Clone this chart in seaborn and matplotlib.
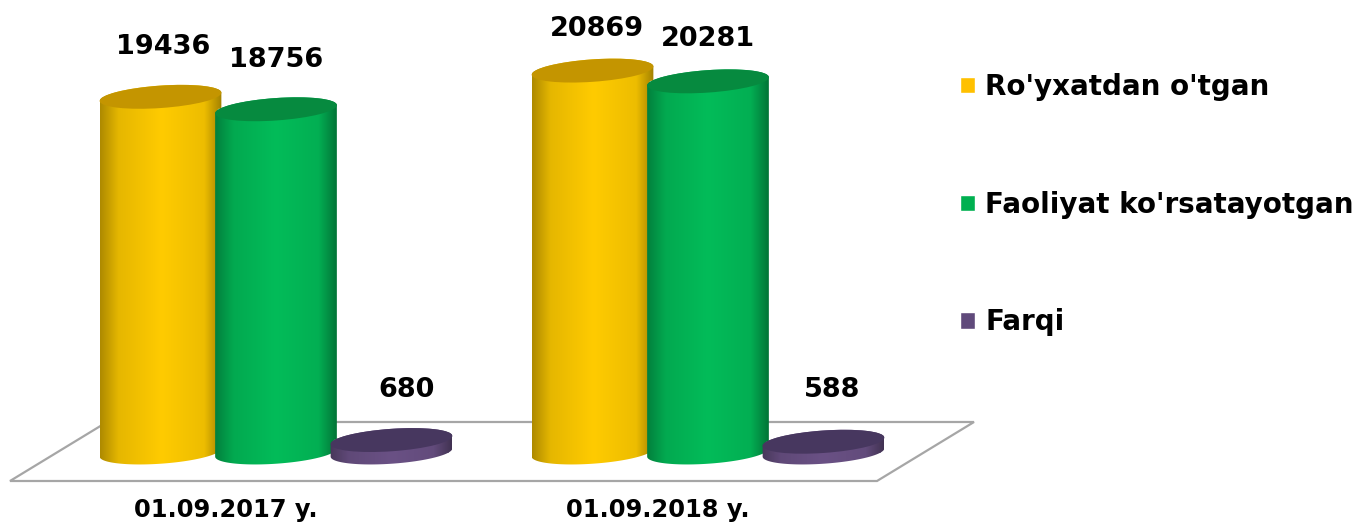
import numpy as np
import pandas as pd
import matplotlib
matplotlib.use('Agg')
import matplotlib.pyplot as plt
import seaborn as sns
from matplotlib.patches import Ellipse, Polygon
from matplotlib.transforms import IdentityTransform

dates = ['01.09.2017 y.', '01.09.2018 y.']
series_names = ["Ro'yxatdan o'tgan", "Faoliyat ko'rsatayotgan", 'Farqi']
registered = [19436, 20869]
active = [18756, 20281]
difference = [680, 588]

colors = ['#FFC000', '#00B050', '#604A7B']
peak_colors = ['#FFCB00', '#03BC59', '#6A5185']
top_colors = ['#C49500', '#068A3F', '#47375F']

# label shift in pixels from the centre of each cylinder top
label_dx = [[3, 4], [0, 0], [15, 9]]
label_dy = [[50, 42], [49, 42], [50, 52]]

df = pd.DataFrame({
    'date': dates * 3,
    'series': np.repeat(series_names, 2),
    'value': registered + active + difference,
})

W, H = 1360, 522
sns.set_theme(style='white')
plt.rcParams['font.family'] = ['DejaVu Sans']

fig = plt.figure(figsize=(W / 100, H / 100), dpi=100)
ax = fig.add_axes([0, (H - 490) / H, 1, 490 / H])
sns.barplot(data=df, x='date', y='value', hue='series', palette=colors,
            hue_order=series_names, order=dates, width=0.802, gap=0,
            saturation=1, ax=ax)

# 432 px between groups, 0.0183 px per unit, baseline at y=452.5 from the top
ax.set_xlim(-276 / 432, (W - 276) / 432)
ax.set_ylim(-(490 - 452.5) / 0.0183, 452.5 / 0.0183)
ax.set_xlabel('')
ax.set_ylabel('')
ax.set_yticks([])
# the date labels sit left of the group centres in the original
tick_shift = -50 / 432
ax.set_xticks([i + tick_shift for i in range(len(dates))], labels=dates)
ax.tick_params(axis='x', length=0, pad=6)
for lab in ax.get_xticklabels():
    lab.set_fontsize(17.4)
    lab.set_fontweight('bold')
    lab.set_color('black')
sns.despine(ax=ax, left=True, bottom=True)

# floor of the 3d box
floor = Polygon([(10, H - 481), (877, H - 481), (974, H - 422), (107, H - 422)],
                closed=True, facecolor='white', edgecolor='#a6a6a6', lw=1.6,
                transform=IdentityTransform(), zorder=1)
ax.add_patch(floor)

A, B = 61, 11.2
TILT = np.deg2rad(4)
shade_x = [0, 0.15, 0.5, 0.85, 1]
shade_y = [0.68, 0.9, 1, 0.93, 0.62]


def ellipse_pts(cx, cy, t):
    x = cx + A * np.cos(t) * np.cos(TILT) - B * np.sin(t) * np.sin(TILT)
    y = cy + A * np.cos(t) * np.sin(TILT) + B * np.sin(t) * np.cos(TILT)
    return np.column_stack([x, y])


inv = ax.transData.inverted()
for s, container in enumerate(ax.containers):
    rgb = np.array(matplotlib.colors.to_rgb(peak_colors[s]))
    u = np.linspace(0, 1, 200)
    grad = (np.interp(u, shade_x, shade_y)[:, None] * rgb)[None, :, :]
    for g, bar in enumerate(container):
        xc = bar.get_x() + bar.get_width() / 2
        cx, base = ax.transData.transform((xc, 0))
        _, top = ax.transData.transform((xc, bar.get_height()))
        z = 3 + cx / 1000

        lower = ellipse_pts(cx, base, np.linspace(np.pi, 2 * np.pi, 80))
        upper = ellipse_pts(cx, top, np.linspace(0, np.pi, 80))
        body = Polygon(np.vstack([lower, upper]), closed=True,
                       transform=IdentityTransform())
        (x0, y0), (x1, y1) = inv.transform([(cx - A, base - 20), (cx + A, top + 20)])
        im = ax.imshow(grad, extent=(x0, x1, y0, y1), aspect='auto',
                       interpolation='bilinear', zorder=z)
        im.set_clip_path(body)
        bar.set_zorder(z - 0.0001)

        ax.add_patch(Ellipse((cx, top), 2 * A, 2 * B, angle=np.rad2deg(TILT),
                             facecolor=top_colors[s], edgecolor='none',
                             transform=IdentityTransform(), zorder=z + 0.0001))

        lx, ly = inv.transform((cx + label_dx[s][g], top + label_dy[s][g]))
        ax.text(lx, ly, f'{bar.get_height():.0f}', ha='center', va='center',
                fontsize=19.5, fontweight='bold', color='black', zorder=20)

sns.move_legend(ax, 'upper left', bbox_to_anchor=(935 / W, 1 - 48 / 490),
                title=None, frameon=False, labelspacing=3.23,
                handlelength=0.54, handleheight=0.54, handletextpad=0.36,
                prop={'weight': 'bold', 'size': 20})
for t in ax.get_legend().get_texts():
    t.set_color('black')

fig.savefig('out.png', dpi=100, facecolor='white')
